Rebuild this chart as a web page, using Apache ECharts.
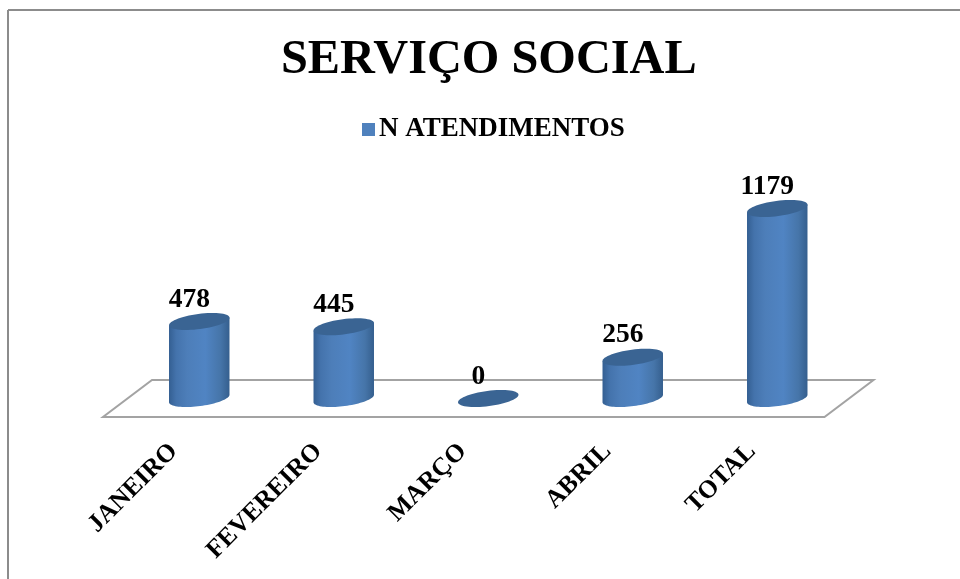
<!DOCTYPE html>
<html>
<head>
<meta charset="utf-8">
<style>html,body{margin:0;padding:0;background:#fff}#c{width:960px;height:579px}</style>
<script src="https://cdn.jsdelivr.net/npm/echarts@6/dist/echarts.min.js"></script>
</head>
<body>
<div id="c"></div>
<script>
const titleText = 'SERVIÇO SOCIAL';
const seriesName = 'N ATENDIMENTOS';
const categories = ['JANEIRO', 'FEVEREIRO', 'MARÇO', 'ABRIL', 'TOTAL'];
const atendimentos = [478, 445, 0, 256, 1179];

const FONT = '"Liberation Serif","Times New Roman",serif';
const TILT = -7.5 * Math.PI / 180;
const RX = 30.5, RY = 7.6;

function ellipsePt(cx, cy, t) {
  const x = RX * Math.cos(t), y = RY * Math.sin(t);
  return [cx + x * Math.cos(TILT) - y * Math.sin(TILT),
          cy + x * Math.sin(TILT) + y * Math.cos(TILT)];
}
function arc(cx, cy, from, to, n) {
  const pts = [];
  for (let i = 0; i <= n; i++) pts.push(ellipsePt(cx, cy, from + (to - from) * i / n));
  return pts;
}

const chart = echarts.init(document.getElementById('c'), null, {renderer: 'canvas'});
chart.setOption({
  animation: false,
  backgroundColor: '#ffffff',
  title: {
    text: titleText, left: 276, top: 32,
    textStyle: {fontFamily: FONT, fontWeight: 'bold', fontSize: 48.3, color: '#000'}
  },
  legend: {
    data: [seriesName], left: 357, top: 111, icon: 'rect',
    itemWidth: 13, itemHeight: 13, itemGap: 6,
    textStyle: {fontFamily: FONT, fontWeight: 'bold', fontSize: 27, color: '#000', padding: [0, 0, 0, -1]}
  },
  grid: {left: 127, right: 110.5, top: 205.1, bottom: 180.5, containLabel: false},
  xAxis: {
    type: 'category', data: categories,
    axisLine: {show: false}, axisTick: {show: false},
    axisLabel: {
      rotate: 45, interval: 0, margin: 23.5, padding: [0, 36, 0, 0],
      fontFamily: FONT, fontWeight: 'bold', fontSize: 25.5, color: '#000'
    }
  },
  yAxis: {type: 'value', min: 0, max: 1200, show: false},
  graphic: [
    {type: 'line', silent: true, shape: {x1: 8, y1: 10, x2: 960, y2: 10}, style: {stroke: '#8c8c8c', lineWidth: 2}},
    {type: 'line', silent: true, shape: {x1: 8, y1: 10, x2: 8, y2: 579}, style: {stroke: '#8c8c8c', lineWidth: 2}}
  ],
  series: [
    {
      name: 'floor', type: 'custom', silent: true, z: 1, data: [[0, 0]],
      renderItem(params) {
        const cs = params.coordSys;
        const l = cs.x, r = cs.x + cs.width, b = cs.y + cs.height;
        return {
          type: 'polygon',
          shape: {points: [[l - 24, b + 18.5], [r - 25, b + 18.5], [r + 24, b - 18.5], [l + 25, b - 18.5]]},
          style: {fill: 'none', stroke: '#a3a3a3', lineWidth: 2}
        };
      }
    },
    {
      name: seriesName, type: 'custom', z: 2, silent: true,
      itemStyle: {color: '#4f81bd'},
      data: atendimentos.map((v, i) => [i, v]),
      renderItem(params, api) {
        const v = api.value(1);
        const top = api.coord([api.value(0), v]);
        const base = api.coord([api.value(0), 0]);
        const cx = top[0], ty = top[1], by = base[1];
        const children = [];
        if (v > 0) {
          const body = [ellipsePt(cx, ty, Math.PI), ellipsePt(cx, ty, 0)]
            .concat(arc(cx, by, 0, Math.PI, 40));
          children.push({
            type: 'polygon',
            shape: {points: body},
            style: {
              fill: new echarts.graphic.LinearGradient(0, 0, 1, 0, [
                {offset: 0, color: '#345f92'},
                {offset: 0.12, color: '#4473ac'},
                {offset: 0.3, color: '#4d7eb9'},
                {offset: 0.6, color: '#5084c3'},
                {offset: 0.85, color: '#4675a9'},
                {offset: 1, color: '#355f8e'}
              ])
            }
          });
        }
        children.push({
          type: 'polygon',
          shape: {points: arc(cx, ty, 0, 2 * Math.PI, 60)},
          style: {fill: '#3a6493'}
        });
        children.push({
          type: 'text',
          style: {
            text: String(v), x: cx - 10, y: ty - 8,
            align: 'center', verticalAlign: 'bottom',
            font: 'bold 27.5px ' + FONT, fill: '#000'
          }
        });
        return {type: 'group', children};
      }
    }
  ]
});
</script>
</body>
</html>
